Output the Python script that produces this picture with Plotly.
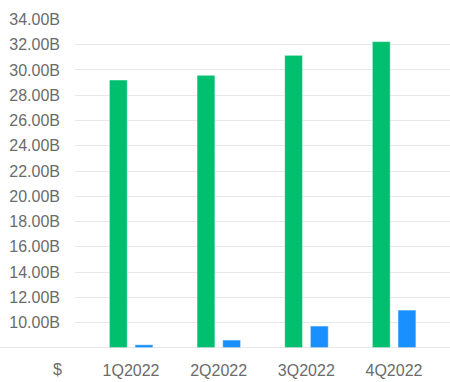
import plotly.graph_objects as go

categories = ["1Q2022", "2Q2022", "3Q2022", "4Q2022"]
series_a = [29.21, 29.58, 31.16, 32.24]   # billions
series_b = [8.26, 8.63, 9.74, 11.0]       # billions
tick_vals = [10, 12, 14, 16, 18, 20, 22, 24, 26, 28, 30, 32, 34]
tick_text = [f"{v:.2f}B" for v in tick_vals]
unit_label = "$"

W, H = 450, 382
L, R, T, B = 75, 0, 19, 34
font = dict(family="Liberation Sans, Arial, sans-serif", size=16, color="#6b6b6b")

fig = go.Figure()
fig.add_trace(go.Bar(
    x=categories, y=series_a, width=0.205, offset=-0.2475,
    marker=dict(color="#00C06F", line=dict(color="rgba(255,255,255,0.55)", width=1)),
))
fig.add_trace(go.Bar(
    x=categories, y=series_b, width=0.205, offset=0.0456,
    marker=dict(color="#1890FF", line=dict(color="rgba(255,255,255,0.55)", width=1)),
))

plot_w = W - L - R
plot_h = H - T - B
fig.add_shape(type="line", xref="paper", yref="y", x0=-L / plot_w, x1=1, y0=8, y1=8,
              line=dict(color="#dfe1e6", width=1.5), layer="above")
fig.add_annotation(text=unit_label, xref="paper", yref="paper",
                   x=(57 - L) / plot_w, y=-(369 - (H - B)) / plot_h,
                   showarrow=False, xanchor="center", yanchor="middle", font=font)

fig.update_layout(
    width=W, height=H, margin=dict(l=L, r=R, t=T, b=B, autoexpand=False),
    plot_bgcolor="white", paper_bgcolor="white", showlegend=False,
    barmode="overlay", font=font,
    xaxis=dict(range=[-0.639, 3.639], showgrid=False, showline=False, zeroline=False,
               ticks="", tickfont=font, fixedrange=True, automargin=False,
               ticklabelstandoff=11),
    yaxis=dict(range=[8, 34.03], tickvals=tick_vals, ticktext=tick_text,
               showgrid=True, gridcolor="#e6e8ee", gridwidth=1, zeroline=False,
               showline=False, ticks="", ticklabelstandoff=14, tickfont=font,
               automargin=False),
)
fig.write_html("out.html", config={"displayModeBar": False},
               post_script="document.body.style.margin='0px';document.body.style.overflow='hidden';")
